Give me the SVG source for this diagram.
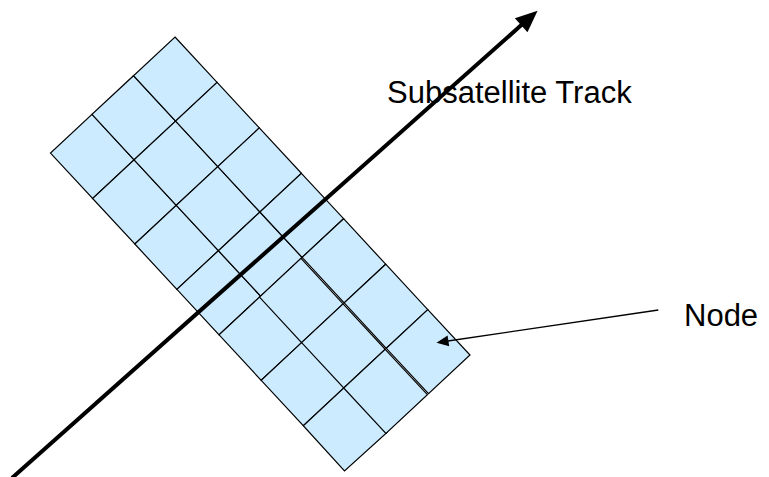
<svg xmlns="http://www.w3.org/2000/svg" width="769" height="477" viewBox="0 0 769 477">
<style>
.cell{fill:#ccebff;stroke:#000;stroke-width:1.2;stroke-linejoin:miter}
.lbl{font-family:"Liberation Sans",Arial,sans-serif;font-size:31px;fill:#000}
.track{fill:none;stroke:#000;stroke-width:4}
.ptr{fill:none;stroke:#000;stroke-width:1.3}
</style>
<defs>
<marker id="bigHead" markerUnits="userSpaceOnUse" orient="auto" refX="1" refY="0" markerWidth="24" markerHeight="20" overflow="visible"><path d="M0,-9.5 L22,0 L0,9.5 z" fill="#000"/></marker>
<marker id="smallHead" markerUnits="userSpaceOnUse" orient="auto" refX="0.5" refY="0" markerWidth="14" markerHeight="12" overflow="visible"><path d="M0,-5.5 L12,0 L0,5.5 z" fill="#000"/></marker>
</defs>
<rect width="769" height="477" fill="#fff"/>
<g id="grid">
<g id="node-c0"><polygon class="cell" points="92,114.4 134.1,159.8 92.6,198.5 50.5,153.1"/></g>
<g id="node-c1"><polygon class="cell" points="134.1,159.8 176.3,205.3 134.8,244 92.6,198.5"/></g>
<g id="node-c2"><polygon class="cell" points="176.3,205.3 218.4,250.7 176.9,289.4 134.8,244"/></g>
<g id="node-c3"><polygon class="cell" points="218.4,250.7 260.6,296.1 219.1,334.8 176.9,289.4"/></g>
<g id="node-c4"><polygon class="cell" points="260.6,296.1 302.7,341.6 261.2,380.3 219.1,334.8"/></g>
<g id="node-c5"><polygon class="cell" points="302.7,341.6 344.8,387 303.3,425.7 261.2,380.3"/></g>
<g id="node-c6"><polygon class="cell" points="344.8,387 387,432.4 344.5,471 303.3,425.7"/></g>
<g id="node-b0"><polygon class="cell" points="133.5,75.7 175.6,121.1 134.1,159.8 92,114.4"/></g>
<g id="node-b1"><polygon class="cell" points="175.6,121.1 217.8,166.6 176.3,205.3 134.1,159.8"/></g>
<g id="node-b2"><polygon class="cell" points="217.8,166.6 259.9,212 218.4,250.7 176.3,205.3"/></g>
<g id="node-b3"><polygon class="cell" points="259.9,212 302.1,257.4 260.6,296.1 218.4,250.7"/></g>
<g id="node-b4"><polygon class="cell" points="301,258.4 343.1,303.9 301.6,342.6 259.5,297.1"/></g>
<g id="node-b5"><polygon class="cell" points="343.1,303.9 385.2,349.3 343.7,388 301.6,342.6"/></g>
<g id="node-b6"><polygon class="cell" points="385.2,349.3 427.4,394.7 385.9,433.4 343.7,388"/></g>
<g id="node-a0"><polygon class="cell" points="175,37 217.1,82.4 175.6,121.1 133.5,75.7"/></g>
<g id="node-a1"><polygon class="cell" points="217.1,82.4 259.3,127.9 217.8,166.6 175.6,121.1"/></g>
<g id="node-a2"><polygon class="cell" points="259.3,127.9 301.4,173.3 259.9,212 217.8,166.6"/></g>
<g id="node-a3"><polygon class="cell" points="301.4,173.3 343.6,218.7 302.1,257.4 259.9,212"/></g>
<g id="node-a4"><polygon class="cell" points="343.6,218.7 385.7,264.2 344.2,302.9 302.1,257.4"/></g>
<g id="node-a5"><polygon class="cell" points="385.7,264.2 427.8,309.6 386.3,348.3 344.2,302.9"/></g>
<g id="node-a6"><polygon class="cell" points="427.8,309.6 470,355 428.5,393.7 386.3,348.3"/></g>
</g>
<g id="labels">
<text class="lbl" x="387" y="103">Subsatellite Track</text>
<text class="lbl" x="684" y="326">Node</text>
</g>
<g id="connectors">
<line class="track" x1="12" y1="478" x2="521.9" y2="24.6" marker-end="url(#bigHead)"/>
<line class="ptr" x1="658.3" y1="310" x2="447.9" y2="341" marker-end="url(#smallHead)"/>
</g>
</svg>
